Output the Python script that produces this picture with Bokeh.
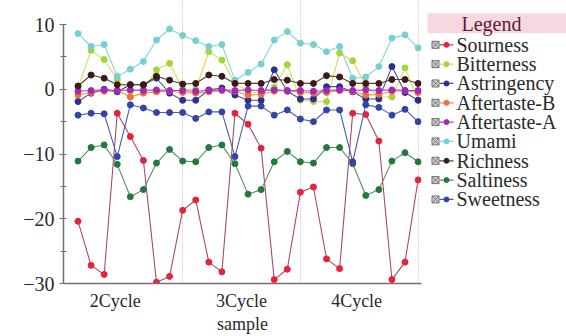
from bokeh.plotting import figure
from bokeh.models import Range1d, FixedTicker, ColumnDataSource
from bokeh.layouts import row
from bokeh.embed import file_html
from bokeh.resources import INLINE
from bokeh.core.properties import value

# ---------------- data ----------------
sample_index = list(range(27))
cycle_labels = ["2Cycle", "3Cycle", "4Cycle"]
cycle_label_pos = [2.85, 12.5, 21.3]
cycle_bounds = [8, 17, 26]
y_ticks = [-30, -20, -10, 0, 10]
y_minor_ticks = [-25, -15, -5, 5]

sourness = [-20.4, -27.2, -28.6, -3.7, -7.3, -11.0, -29.8, -28.9, -18.7,
            -17.1, -26.7, -28.2, -3.7, -5.4, -9.1, -29.4, -27.8, -15.9,
            -15.1, -26.2, -27.7, -3.7, -3.9, -8.0, -29.4, -26.7, -14.0]
bitterness = [0.2, 6.0, 4.6, 1.5, -0.3, 0.0, 3.0, 4.0, 0.0,
              0.0, 5.8, 4.5, 1.0, -0.4, -0.5, 0.3, 3.8, -1.7,
              -1.9, -1.9, 5.6, 4.4, 0.5, -1.2, -1.2, 3.3, -1.7]
astringency = [-1.9, -0.6, 0.0, -0.4, 0.7, 0.7, 1.7, -0.6, -1.7,
               -1.7, -0.1, 0.2, -0.9, -1.7, -1.7, 3.0, -0.3, -1.5,
               -1.5, 0.4, 0.4, -0.4, -1.5, -1.5, 3.5, -0.5, -1.7]
aftertaste_b = [-0.9, -0.5, -0.3, -0.2, -1.2, -0.6, -0.4, -0.3, -0.5,
                -0.6, -0.4, -0.2, -0.3, -0.9, -0.8, -0.3, -0.2, -0.5,
                -0.6, -0.5, -0.2, -0.3, -0.9, -0.8, -0.3, -0.2, -0.5]
aftertaste_a = [-0.3, -0.2, -0.1, -0.2, -0.1, -0.2, -0.1, -0.2, -0.2,
                -0.3, -0.2, -0.1, -0.2, -0.1, -0.2, -0.1, -0.2, -0.2,
                -0.3, -0.2, -0.1, -0.2, -0.1, -0.2, -0.1, -0.2, -0.2]
umami = [8.6, 6.6, 6.9, 2.0, 3.1, 4.3, 7.6, 9.3, 8.3,
         7.5, 6.6, 6.9, 1.4, 2.6, 3.9, 7.6, 8.9, 7.1,
         6.9, 5.8, 6.6, 1.7, 1.9, 3.5, 7.9, 8.4, 6.4]
richness = [0.5, 2.2, 1.7, 0.7, 0.7, 0.7, 2.0, 1.4, 0.8,
            0.9, 2.2, 2.0, 0.9, 0.9, 0.9, 1.5, 1.4, 0.9,
            0.9, 2.1, 1.9, 0.9, 0.9, 0.9, 1.5, 1.5, 0.9]
saltiness = [-11.1, -9.0, -8.6, -11.6, -16.6, -15.5, -11.4, -9.3, -11.1,
             -11.2, -9.0, -8.6, -11.5, -16.2, -15.5, -11.2, -9.6, -11.2,
             -11.4, -9.0, -9.0, -11.5, -16.4, -15.5, -11.1, -9.8, -11.2]
sweetness = [-4.0, -3.7, -3.8, -10.4, -2.4, -2.9, -3.6, -3.6, -3.6,
             -4.5, -3.5, -3.5, -10.4, -2.6, -2.6, -4.0, -3.2, -4.6,
             -5.0, -3.2, -3.2, -11.2, -2.4, -2.8, -4.0, -3.1, -5.0]

series_names = ["Sourness", "Bitterness", "Astringency", "Aftertaste-B",
                "Aftertaste-A", "Umami", "Richness", "Saltiness", "Sweetness"]
series_values = [sourness, bitterness, astringency, aftertaste_b,
                 aftertaste_a, umami, richness, saltiness, sweetness]
marker_colors = ["#e6223c", "#a2d63a", "#2b2f8f", "#f0702e", "#a426bf",
                 "#76d0d3", "#3d1a17", "#217a3c", "#3444a6"]
line_colors = ["#a84a6a", "#d2de58", "#4a50a0", "#f08a44", "#a846c0",
               "#86d4d4", "#5e4030", "#5a8a66", "#4c5aac"]

SERIF = value("Liberation Serif")
TEXT_COLOR = "#2a2a2a"

Y_MIN, Y_MAX = -30, 10
FRAME_BOTTOM_PX = 283
AXIS_TOP_PX = 24
y_top = Y_MAX + AXIS_TOP_PX * (Y_MAX - Y_MIN) / (FRAME_BOTTOM_PX - AXIS_TOP_PX)

# ---------------- main chart ----------------
p = figure(width=423, height=336, x_range=Range1d(-1.11, 26.26),
           y_range=Range1d(Y_MIN, y_top), toolbar_location=None,
           output_backend="svg", min_border_left=63, min_border_right=2,
           min_border_top=0, min_border_bottom=336 - FRAME_BOTTOM_PX)
p.outline_line_color = None
p.background_fill_color = "white"
p.border_fill_color = "white"

p.ygrid.visible = False
p.xgrid.ticker = FixedTicker(ticks=cycle_bounds)
p.xgrid.bounds = (Y_MIN, Y_MAX)
p.xgrid.grid_line_color = "#b0b0b0"
p.xgrid.grid_line_dash = "1 2"
p.xgrid.grid_line_width = 1

for vals, mc, lc in zip(series_values, marker_colors, line_colors):
    src = ColumnDataSource(dict(x=sample_index, y=vals))
    p.line("x", "y", source=src, line_color=lc, line_width=1.1)
    p.scatter("x", "y", source=src, size=6, fill_color=mc, line_color=mc)

# y axis
p.yaxis.bounds = (Y_MIN, Y_MAX)
p.yaxis.ticker = FixedTicker(ticks=y_ticks, minor_ticks=y_minor_ticks)
p.yaxis.major_label_overrides = {t: (str(t).replace("-", "\u2212")) for t in y_ticks}
p.yaxis.axis_line_color = "#707070"
p.yaxis.axis_line_width = 1.5
p.yaxis.major_tick_line_color = "#707070"
p.yaxis.minor_tick_line_color = "#707070"
p.yaxis.major_tick_in = 3
p.yaxis.major_tick_out = 4
p.yaxis.minor_tick_in = 3
p.yaxis.minor_tick_out = 3
p.yaxis.major_label_standoff = 5
p.yaxis.major_label_text_font = "Liberation Serif"
p.yaxis.major_label_text_font_size = "20px"
p.yaxis.major_label_text_color = TEXT_COLOR

# x axis
p.xaxis.ticker = FixedTicker(ticks=cycle_label_pos)
p.xaxis.major_label_overrides = {pos: lab for pos, lab in zip(cycle_label_pos, cycle_labels)}
p.xaxis.axis_line_color = "#707070"
p.xaxis.axis_line_width = 1.5
p.xaxis.major_tick_line_color = None
p.xaxis.minor_tick_line_color = None
p.xaxis.major_tick_out = 0
p.xaxis.major_tick_in = 0
p.xaxis.major_label_standoff = 7
p.xaxis.major_label_text_font = "Liberation Serif"
p.xaxis.major_label_text_font_size = "18px"
p.xaxis.major_label_text_color = TEXT_COLOR
p.xaxis.axis_label = "sample"
p.xaxis.axis_label_standoff = 0
p.xaxis.axis_label_text_font = "Liberation Serif"
p.xaxis.axis_label_text_font_size = "18px"
p.xaxis.axis_label_text_font_style = "normal"
p.xaxis.axis_label_text_color = TEXT_COLOR

# ---------------- legend panel ----------------
leg = figure(width=143, height=336, x_range=Range1d(423, 566),
             y_range=Range1d(FRAME_BOTTOM_PX, 0), toolbar_location=None,
             output_backend="svg", min_border_left=0, min_border_right=0,
             min_border_top=0, min_border_bottom=336 - FRAME_BOTTOM_PX,
             x_axis_location=None, y_axis_location=None)
leg.outline_line_color = None
leg.grid.visible = False

leg.quad(left=[427], right=[566], top=[12.7], bottom=[32.7],
         fill_color="#f8d8e0", line_color=None)
leg.text(x=[491], y=[23.5], text=["Legend"], text_font=SERIF,
         text_font_size=value("20px"), text_color="#5a2232",
         text_align="center", text_baseline="middle")

n = len(series_names)
item_y = [44.3 + 19.33 * k for k in range(n)]
leg.scatter(x=[435] * n, y=item_y, marker="square_x", size=7,
            fill_color="#d4d4d4", line_color="#707070", line_width=1)
for k in range(n):
    leg.line(x=[439, 453], y=[item_y[k]] * 2, line_color=line_colors[k], line_width=1.2)
leg.scatter(x=[446] * n, y=item_y, size=5, fill_color=marker_colors,
            line_color=marker_colors)
leg.text(x=[456] * n, y=item_y, text=series_names, text_font=SERIF,
         text_font_size=value("20px"), text_color=TEXT_COLOR,
         text_align="left", text_baseline="middle")

layout = row(p, leg)
open("out.html", "w").write(file_html(layout, INLINE))
